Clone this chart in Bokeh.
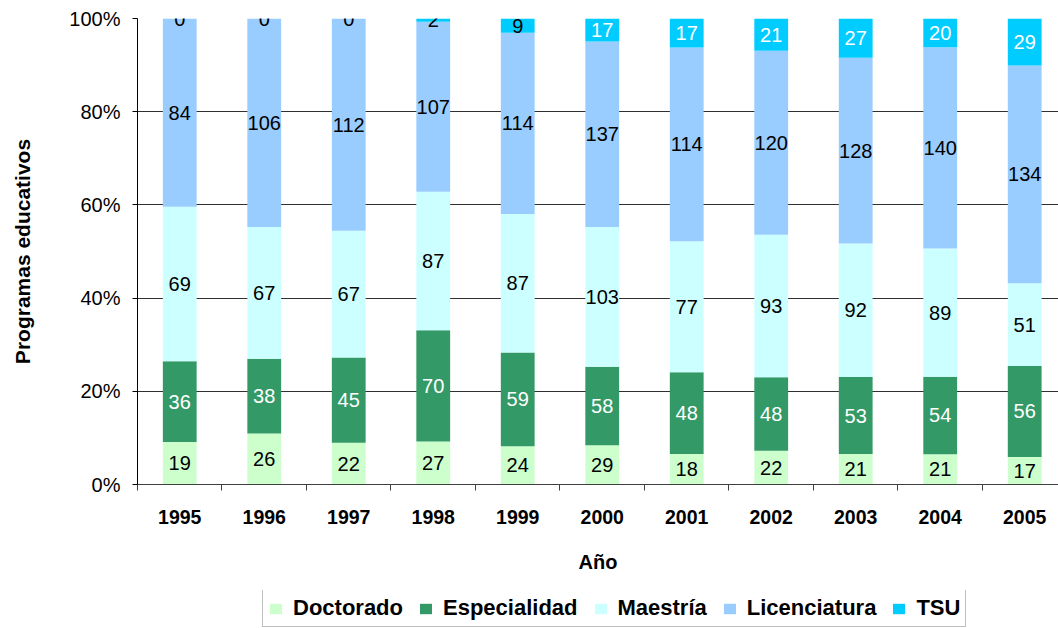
from bokeh.plotting import figure
from bokeh.layouts import column
from bokeh.models import (ColumnDataSource, Range1d, FixedTicker, NumeralTickFormatter,
                          Legend, LegendItem, LabelSet)
from bokeh.core.properties import value
from bokeh.embed import file_html
from bokeh.resources import INLINE

years = ["1995", "1996", "1997", "1998", "1999", "2000", "2001", "2002", "2003", "2004", "2005"]
series = ["Doctorado", "Especialidad", "Maestría", "Licenciatura", "TSU"]
doctorado    = [19, 26, 22, 27, 24, 29, 18, 22, 21, 21, 17]
especialidad = [36, 38, 45, 70, 59, 58, 48, 48, 53, 54, 56]
maestria     = [69, 67, 67, 87, 87, 103, 77, 93, 92, 89, 51]
licenciatura = [84, 106, 112, 107, 114, 137, 114, 120, 128, 140, 134]
tsu          = [0, 0, 0, 2, 9, 17, 17, 21, 27, 20, 29]

colors = ["#CCFFCC", "#339966", "#CCFFFF", "#99CCFF", "#00CCFF"]
label_colors = ["black", "white", "black", "black", "white"]
FONT = "Liberation Sans"

data = [doctorado, especialidad, maestria, licenciatura, tsu]
n = len(years)
xs = list(range(n))
totals = [sum(d[i] for d in data) for i in range(n)]

p = figure(frame_width=921, frame_height=466, output_backend="svg", toolbar_location=None,
           x_range=Range1d(-0.5, 10.40), y_range=Range1d(0, 1),
           min_border_left=137, min_border_top=18, min_border_right=0, min_border_bottom=106)
p.outline_line_color = None
p.background_fill_color = "white"
p.border_fill_color = "white"

bottoms = [0.0] * n
for k, (name, vals) in enumerate(zip(series, data)):
    frac = [vals[i] / totals[i] for i in range(n)]
    tops = [bottoms[i] + frac[i] for i in range(n)]
    mids = [(bottoms[i] + tops[i]) / 2 for i in range(n)]
    # labels that do not fit inside a thin segment are drawn in black
    tcol = [label_colors[k] if frac[i] > 0.04 else "black" for i in range(n)]
    src = ColumnDataSource(dict(x=xs, bottom=list(bottoms), top=tops, mid=mids,
                                txt=[str(v) for v in vals], tcol=tcol))
    p.vbar(x="x", bottom="bottom", top="top", width=0.40, source=src,
           fill_color=colors[k], line_color=None)
    lbl = LabelSet(x="x", y="mid", text="txt", source=src, text_align="center",
                   text_baseline="middle", text_font=value(FONT), text_font_size="20px",
                   text_color="tcol")
    p.add_layout(lbl)
    bottoms = tops

# y axis
p.yaxis.ticker = FixedTicker(ticks=[0, 0.2, 0.4, 0.6, 0.8, 1.0])
p.yaxis.formatter = NumeralTickFormatter(format="0%")
p.yaxis.axis_label = "Programas educativos"
p.yaxis.axis_label_text_font = FONT
p.yaxis.axis_label_text_font_style = "bold"
p.yaxis.axis_label_text_font_size = "21px"
p.yaxis.axis_label_text_color = "black"
p.yaxis.axis_label_standoff = 32
p.yaxis.major_label_text_font = FONT
p.yaxis.major_label_text_font_size = "20px"
p.yaxis.major_label_text_color = "black"
p.yaxis.major_label_standoff = 12
p.yaxis.major_tick_out = 5
p.yaxis.major_tick_in = 0
p.yaxis.minor_tick_line_color = None
p.yaxis.axis_line_color = "black"
p.yaxis.major_tick_line_color = "black"

# x axis
p.xaxis.ticker = FixedTicker(ticks=xs, minor_ticks=[i - 0.5 for i in range(n + 1)])
p.xaxis.major_label_overrides = {i: y for i, y in enumerate(years)}
p.xaxis.major_tick_line_color = None
p.xaxis.major_tick_out = 0
p.xaxis.minor_tick_out = 6
p.xaxis.minor_tick_in = 0
p.xaxis.minor_tick_line_color = "#404040"
p.xaxis.axis_line_color = "#404040"
p.xaxis.major_label_text_font = FONT
p.xaxis.major_label_text_font_style = "bold"
p.xaxis.major_label_text_font_size = "19.5px"
p.xaxis.major_label_text_color = "black"
p.xaxis.major_label_standoff = 19
p.xaxis.axis_label = "Año"
p.xaxis.axis_label_text_font = FONT
p.xaxis.axis_label_text_font_style = "bold"
p.xaxis.axis_label_text_font_size = "20px"
p.xaxis.axis_label_text_color = "black"
p.xaxis.axis_label_standoff = 24

p.xgrid.grid_line_color = None
p.ygrid.ticker = FixedTicker(ticks=[0.2, 0.4, 0.6, 0.8, 1.0])
p.ygrid.grid_line_color = "#303030"
p.ygrid.grid_line_width = 1
p.ygrid.level = "underlay"

# legend strip underneath the chart (swatch renderers have zero height)
p2 = figure(width=1058, height=38, output_backend="svg", toolbar_location=None,
            x_axis_location=None, y_axis_location=None, min_border=0,
            x_range=Range1d(0, 1), y_range=Range1d(0, 1))
p2.outline_line_color = None
p2.grid.grid_line_color = None
p2.border_fill_color = "white"
items = []
for k, name in enumerate(series):
    r = p2.vbar(x=[0], bottom=[0], top=[0], width=0.0, fill_color=colors[k], line_color=None)
    items.append(LegendItem(label=name, renderers=[r]))
legend = Legend(items=items, orientation="horizontal", location=(125, 1),
                label_text_font=FONT, label_text_font_style="bold",
                label_text_font_size="22px", label_text_color="black",
                glyph_width=15, glyph_height=13, label_standoff=10, spacing=15,
                padding=5, margin=0, border_line_color="#808080", border_line_width=1,
                background_fill_color="white", label_height=22)
p2.add_layout(legend)

open("out.html", "w").write(file_html(column(p, p2, spacing=0), INLINE))
